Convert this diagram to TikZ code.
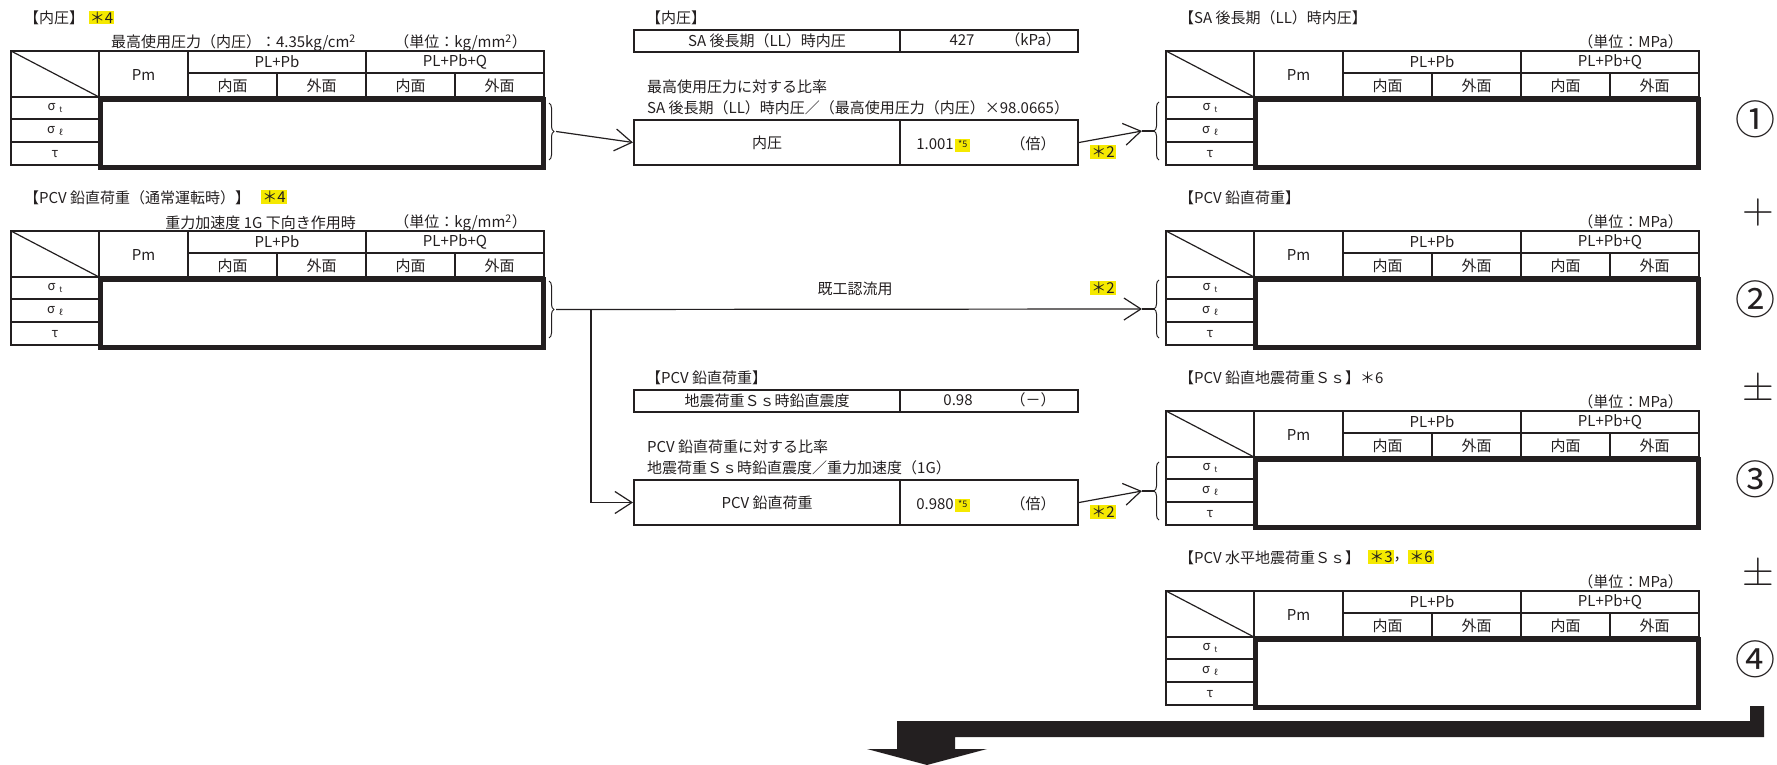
\documentclass[tikz,border=0pt]{standalone}
\usepackage{fontspec}
\setmainfont{Noto Sans CJK JP}
\newfontfamily\opfont{Latin Modern Roman}
\usetikzlibrary{arrows.meta,decorations.pathreplacing,calc}
\definecolor{ink}{RGB}{35,31,32}
\definecolor{hl}{RGB}{245,233,0}
\tikzset{
  txt/.style={font=\fontsize{15}{18}\selectfont, inner sep=0pt, text=ink},
  sig/.style={font=\fontsize{13}{15}\selectfont, inner sep=0pt, text=ink},
  tline/.style={draw=ink, line width=2pt},
  thickframe/.style={draw=ink, line width=5pt},
  cell/.style={draw=ink, line width=2pt, inner sep=0pt, text=ink, font=\fontsize{15}{18}\selectfont, anchor=north west},
  hlbox/.style={fill=hl, inner sep=1pt, text=ink, font=\fontsize{15}{18}\selectfont},
  hlsup/.style={fill=hl, inner sep=1pt, text=ink, font=\fontsize{9}{9}\selectfont, text height=7pt, text depth=4pt, minimum width=15pt, anchor=north west},
  conn/.style={draw=ink, line width=1.2pt},
  arr/.style={conn, -{Straight Barb[length=17pt,width=22pt]}},
  brc/.style={draw=ink, line width=1pt, decorate, decoration={brace, amplitude=5pt}},
  circnum/.style={font=\fontsize{40}{40}\selectfont, inner sep=0pt, text=ink},
  opsym/.style={font=\opfont\fontsize{44}{44}\selectfont, inner sep=0pt, text=ink},
}
\newcommand\stresstab[3]{% #1 name, #2 x0, #3 y0
  \begin{scope}[shift={(#2,#3)}]
    \draw[tline] (0,0) rectangle (533,46);
    \draw[tline] (88,0) -- (88,46) (177,0) -- (177,46) (355,0) -- (355,46)
      (177,22) -- (533,22) (266,22) -- (266,46) (444,22) -- (444,46);
    \draw[conn] (0,0) -- (88,46);
    \draw[tline] (0,46) rectangle (88,114) (0,68) -- (88,68) (0,91) -- (88,91);
    \draw[thickframe] (89.5,48.5) rectangle (532.5,116.5);
    \node[txt] (#1-pm) at (132.5,24) {Pm};
    \node[txt] (#1-pb) at (266,11) {PL+Pb};
    \node[txt] (#1-pq) at (444,11) {PL+Pb+Q};
    \node[txt] (#1-i1) at (221.5,34.5) {内面};
    \node[txt] (#1-o1) at (310.5,34.5) {外面};
    \node[txt] (#1-i2) at (399.5,34.5) {内面};
    \node[txt] (#1-o2) at (488.5,34.5) {外面};
    \node[sig] (#1-st) at (44,57.5) {σ\hspace{4pt}\raisebox{-2pt}{\fontsize{8}{8}\selectfont t}};
    \node[sig] (#1-sl) at (44,80) {σ\hspace{4pt}\raisebox{-2pt}{\fontsize{8}{8}\selectfont ℓ}};
    \node[sig] (#1-ta) at (44,103) {τ};
  \end{scope}}
\begin{document}
\begin{tikzpicture}[x=1pt,y=-1pt]
\useasboundingbox (0,0) rectangle (1777,765);

% tables
\stresstab{LA}{11}{51}
\stresstab{LB}{11}{231}
\stresstab{RA}{1166}{51}
\stresstab{RB}{1166}{231}
\stresstab{RC}{1166}{411}
\stresstab{RD}{1166}{591}

% left titles
\node[txt, anchor=west] (tLA) at (24,18) {【内圧】};
\node[hlbox] (tLAs) at (101.5,17.5) {＊4};
\node[txt, anchor=east] (sLA) at (356,43) {最高使用圧力（内圧）：4.35kg/cm\textsuperscript{2}};
\node[txt, anchor=east] (uLA) at (527,43) {（単位：kg/mm\textsuperscript{2}）};
\node[txt, anchor=west] (tLB) at (24,198) {【PCV 鉛直荷重（通常運転時）】};
\node[hlbox] (tLBs) at (274,197) {＊4};
\node[txt, anchor=east] (sLB) at (356,223) {重力加速度 1G 下向き作用時};
\node[txt, anchor=east] (uLB) at (527,223) {（単位：kg/mm\textsuperscript{2}）};

% middle
\node[txt, anchor=west] (tM1) at (646,18) {【内圧】};
\node[cell, minimum width=266pt, minimum height=22pt] (b1l) at (633,29) {SA 後長期（LL）時内圧};
\node[cell, minimum width=178pt, minimum height=22pt] (b1r) at (899,29) {};
\node[txt] (b1v) at (962,40) {427};
\node[txt] (b1u) at (1033,40) {（kPa）};
\node[txt, anchor=west] (rM1) at (647,87) {最高使用圧力に対する比率};
\node[txt, anchor=west] (fM1) at (647,108) {SA 後長期（LL）時内圧／（最高使用圧力（内圧）×98.0665）};
\node[cell, minimum width=266pt, minimum height=45pt] (b2l) at (633,119) {内圧};
\node[cell, minimum width=178pt, minimum height=45pt] (b2r) at (899,119) {};
\node[txt, anchor=east] (b2v) at (954,144) {1.001};
\node[hlsup] (b2s) at ($(b2v.east)+(1,-5)$) {*5};
\node[txt] (b2u) at (1033,144) {（倍）};

\node[txt, anchor=west] (tM2) at (646,378) {【PCV 鉛直荷重】};
\node[cell, minimum width=266pt, minimum height=22pt] (b3l) at (633,389) {地震荷重Ｓｓ時鉛直震度};
\node[cell, minimum width=178pt, minimum height=22pt] (b3r) at (899,389) {};
\node[txt] (b3v) at (958,400) {0.98};
\node[txt] (b3u) at (1033,400) {（－）};
\node[txt, anchor=west] (rM2) at (647,447) {PCV 鉛直荷重に対する比率};
\node[txt, anchor=west] (fM2) at (647,468) {地震荷重Ｓｓ時鉛直震度／重力加速度（1G）};
\node[cell, minimum width=266pt, minimum height=45pt] (b4l) at (633,479) {PCV 鉛直荷重};
\node[cell, minimum width=178pt, minimum height=45pt] (b4r) at (899,479) {};
\node[txt, anchor=east] (b4v) at (954,504) {0.980};
\node[hlsup] (b4s) at ($(b4v.east)+(1,-5)$) {*5};
\node[txt] (b4u) at (1033,504) {（倍）};

% right titles
\node[txt, anchor=west] (tRA) at (1179,18) {【SA 後長期（LL）時内圧】};
\node[txt, anchor=east] (uRA) at (1683,42) {（単位：MPa）};
\node[txt, anchor=west] (tRB) at (1179,198) {【PCV 鉛直荷重】};
\node[txt, anchor=east] (uRB) at (1683,222) {（単位：MPa）};
\node[txt, anchor=west] (tRC) at (1179,378) {【PCV 鉛直地震荷重Ｓｓ】＊6};
\node[txt, anchor=east] (uRC) at (1683,402) {（単位：MPa）};
\node[txt, anchor=west] (tRD) at (1179,558) {【PCV 水平地震荷重Ｓｓ】};
\node[hlbox] (tRDa) at (1381,557) {＊3};
\node[txt] (tRDc) at (1401,560) {，};
\node[hlbox] (tRDb) at (1421,557) {＊6};
\node[txt, anchor=east] (uRD) at (1683,582) {（単位：MPa）};

% braces
\draw[brc] (549,103) -- (549,160);
\draw[brc] (549,281) -- (549,338);
\draw[brc] (1159,160) -- (1159,102);
\draw[brc] (1159,338) -- (1159,280);
\draw[brc] (1159,520) -- (1159,462);
\coordinate (LAo) at (556,131.5);
\coordinate (LBo) at (556,309.5);
\coordinate (RAin) at (1142,131);
\coordinate (RBin) at (1142,309);
\coordinate (RCin) at (1142,491);
\coordinate (RAb) at (1154,131);
\coordinate (RBb) at (1154,309);
\coordinate (RCb) at (1154,491);
\draw[conn] (RAin) -- (RAb);
\draw[conn] (RBin) -- (RBb);
\draw[conn] (RCin) -- (RCb);
\coordinate (br) at (591,309.5);

% connectors
\draw[arr] (LAo) -- (b2l.west);
\draw[arr] (b2r.east) -- (RAin);
\draw[arr] (LBo) -- (RBin);
\draw[arr] (br) |- (b4l.west);
\draw[arr] (b4r.east) -- (RCin);
\node[txt] (lbl) at (855,289) {既工認流用};
\node[hlbox] (s2a) at (1103,152) {＊2};
\node[hlbox] (s2b) at (1103,288) {＊2};
\node[hlbox] (s2c) at (1103,512) {＊2};

% right-side symbols
\node[circnum] (n1) at (1755,119) {①};
\node[opsym] (p1) at (1758,213) {+};
\node[circnum] (n2) at (1755,299) {②};
\node[opsym] (p2) at (1758,387) {±};
\node[circnum] (n3) at (1755,479) {③};
\node[opsym] (p3) at (1758,572) {±};
\node[circnum] (n4) at (1755,659) {④};

% big arrow
\fill[ink] (1764,706) -- (1764,737) -- (955,737) -- (955,749) -- (987,749) -- (927,765)
  -- (867,749) -- (897,749) -- (897,721) -- (1750,721) -- (1750,706) -- cycle;
\end{tikzpicture}
\end{document}
